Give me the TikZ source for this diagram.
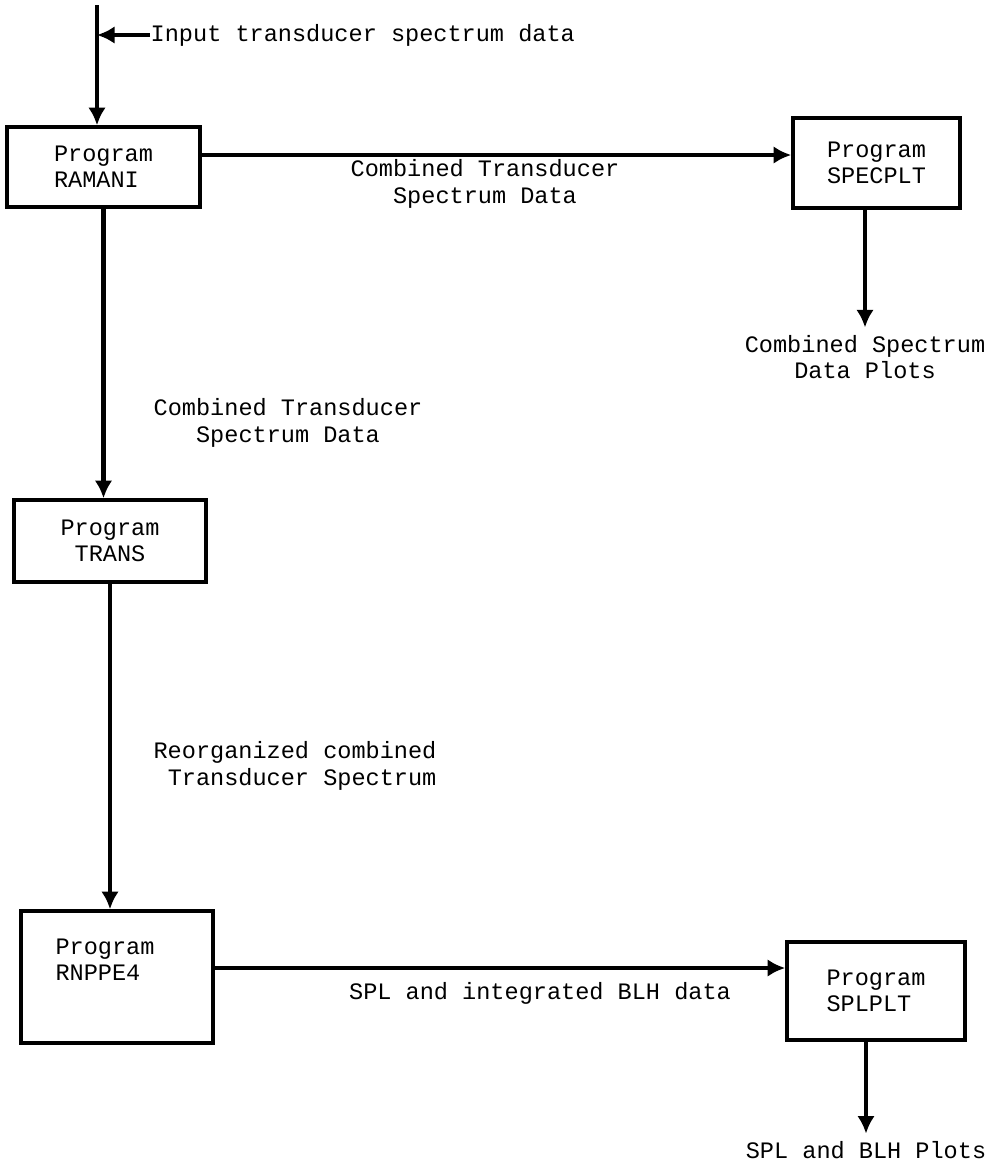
\documentclass[tikz,border=0pt]{standalone}
\usepackage{fontspec}
\setmainfont{Liberation Mono}
\usetikzlibrary{arrows.meta}
\usetikzlibrary{positioning}

\newcommand{\typ}{\fontsize{6.7}{7.5}\selectfont}

\tikzset{
  prog/.style={draw, line width=1pt, align=left, inner sep=0pt},
  flow/.style={line width=1.2pt, -{Latex[length=5pt,width=5pt]}},
  lbl/.style={align=center, inner sep=2pt},
}

\begin{document}
\begin{tikzpicture}[x=0.01cm, y=-0.01cm, font=\typ]
\useasboundingbox (0,0) rectangle (1001,1166);

% program boxes
\node[prog, minimum width=1.93cm, minimum height=0.80cm] (ramani) at (103.5,167) {Program\\RAMANI};
\node[prog, minimum width=1.67cm, minimum height=0.90cm] (specplt) at (876.5,163) {Program\\SPECPLT};
\node[prog, align=center, minimum width=1.92cm, minimum height=0.82cm] (trans) at (110,541) {Program\\TRANS};
\node[prog, minimum width=1.92cm, minimum height=1.32cm] (rnppe4) at (117,977) {};
\node[align=left, below=0.17cm of rnppe4.north, xshift=-0.12cm] (rnppe4txt) {Program\\RNPPE4};
\node[prog, minimum width=1.78cm, minimum height=0.98cm] (splplt) at (876,991) {Program\\SPLPLT};

% input
\coordinate (src) at (97,5);
\node[anchor=west, inner sep=0pt] (input) at (150,35) {Input transducer spectrum data};
\draw[flow] (src) -- (src |- ramani.north);
\draw[flow] (input.west) -- (input.west -| src);

% data flow
\draw[flow] (ramani.east |- 0,155) -- (specplt.west |- 0,155);
\node[lbl] (cts1) at (485,184) {Combined Transducer\\Spectrum Data};

\node[lbl] (specplots) at (865,357) {Combined Spectrum\\Data Plots};
\draw[flow] (specplots.north |- specplt.south) -- (specplots.north);

\draw[flow] (ramani.south) -- (ramani.south |- trans.north);
\node[lbl] (cts2) at (288,423) {Combined Transducer\\Spectrum Data};

\draw[flow] (trans.south) -- (trans.south |- rnppe4.north);
\node[lbl, align=right] (reorg) at (295,766) {Reorganized combined\\Transducer Spectrum};

\draw[flow] (rnppe4.east |- 0,968) -- (splplt.west |- 0,968);
\node[lbl] (blhdata) at (540,993) {SPL and integrated BLH data};

\node[lbl] (blhplots) at (866,1150) {SPL and BLH Plots};
\draw[flow] (blhplots.north |- splplt.south) -- (blhplots.north);

\end{tikzpicture}
\end{document}
